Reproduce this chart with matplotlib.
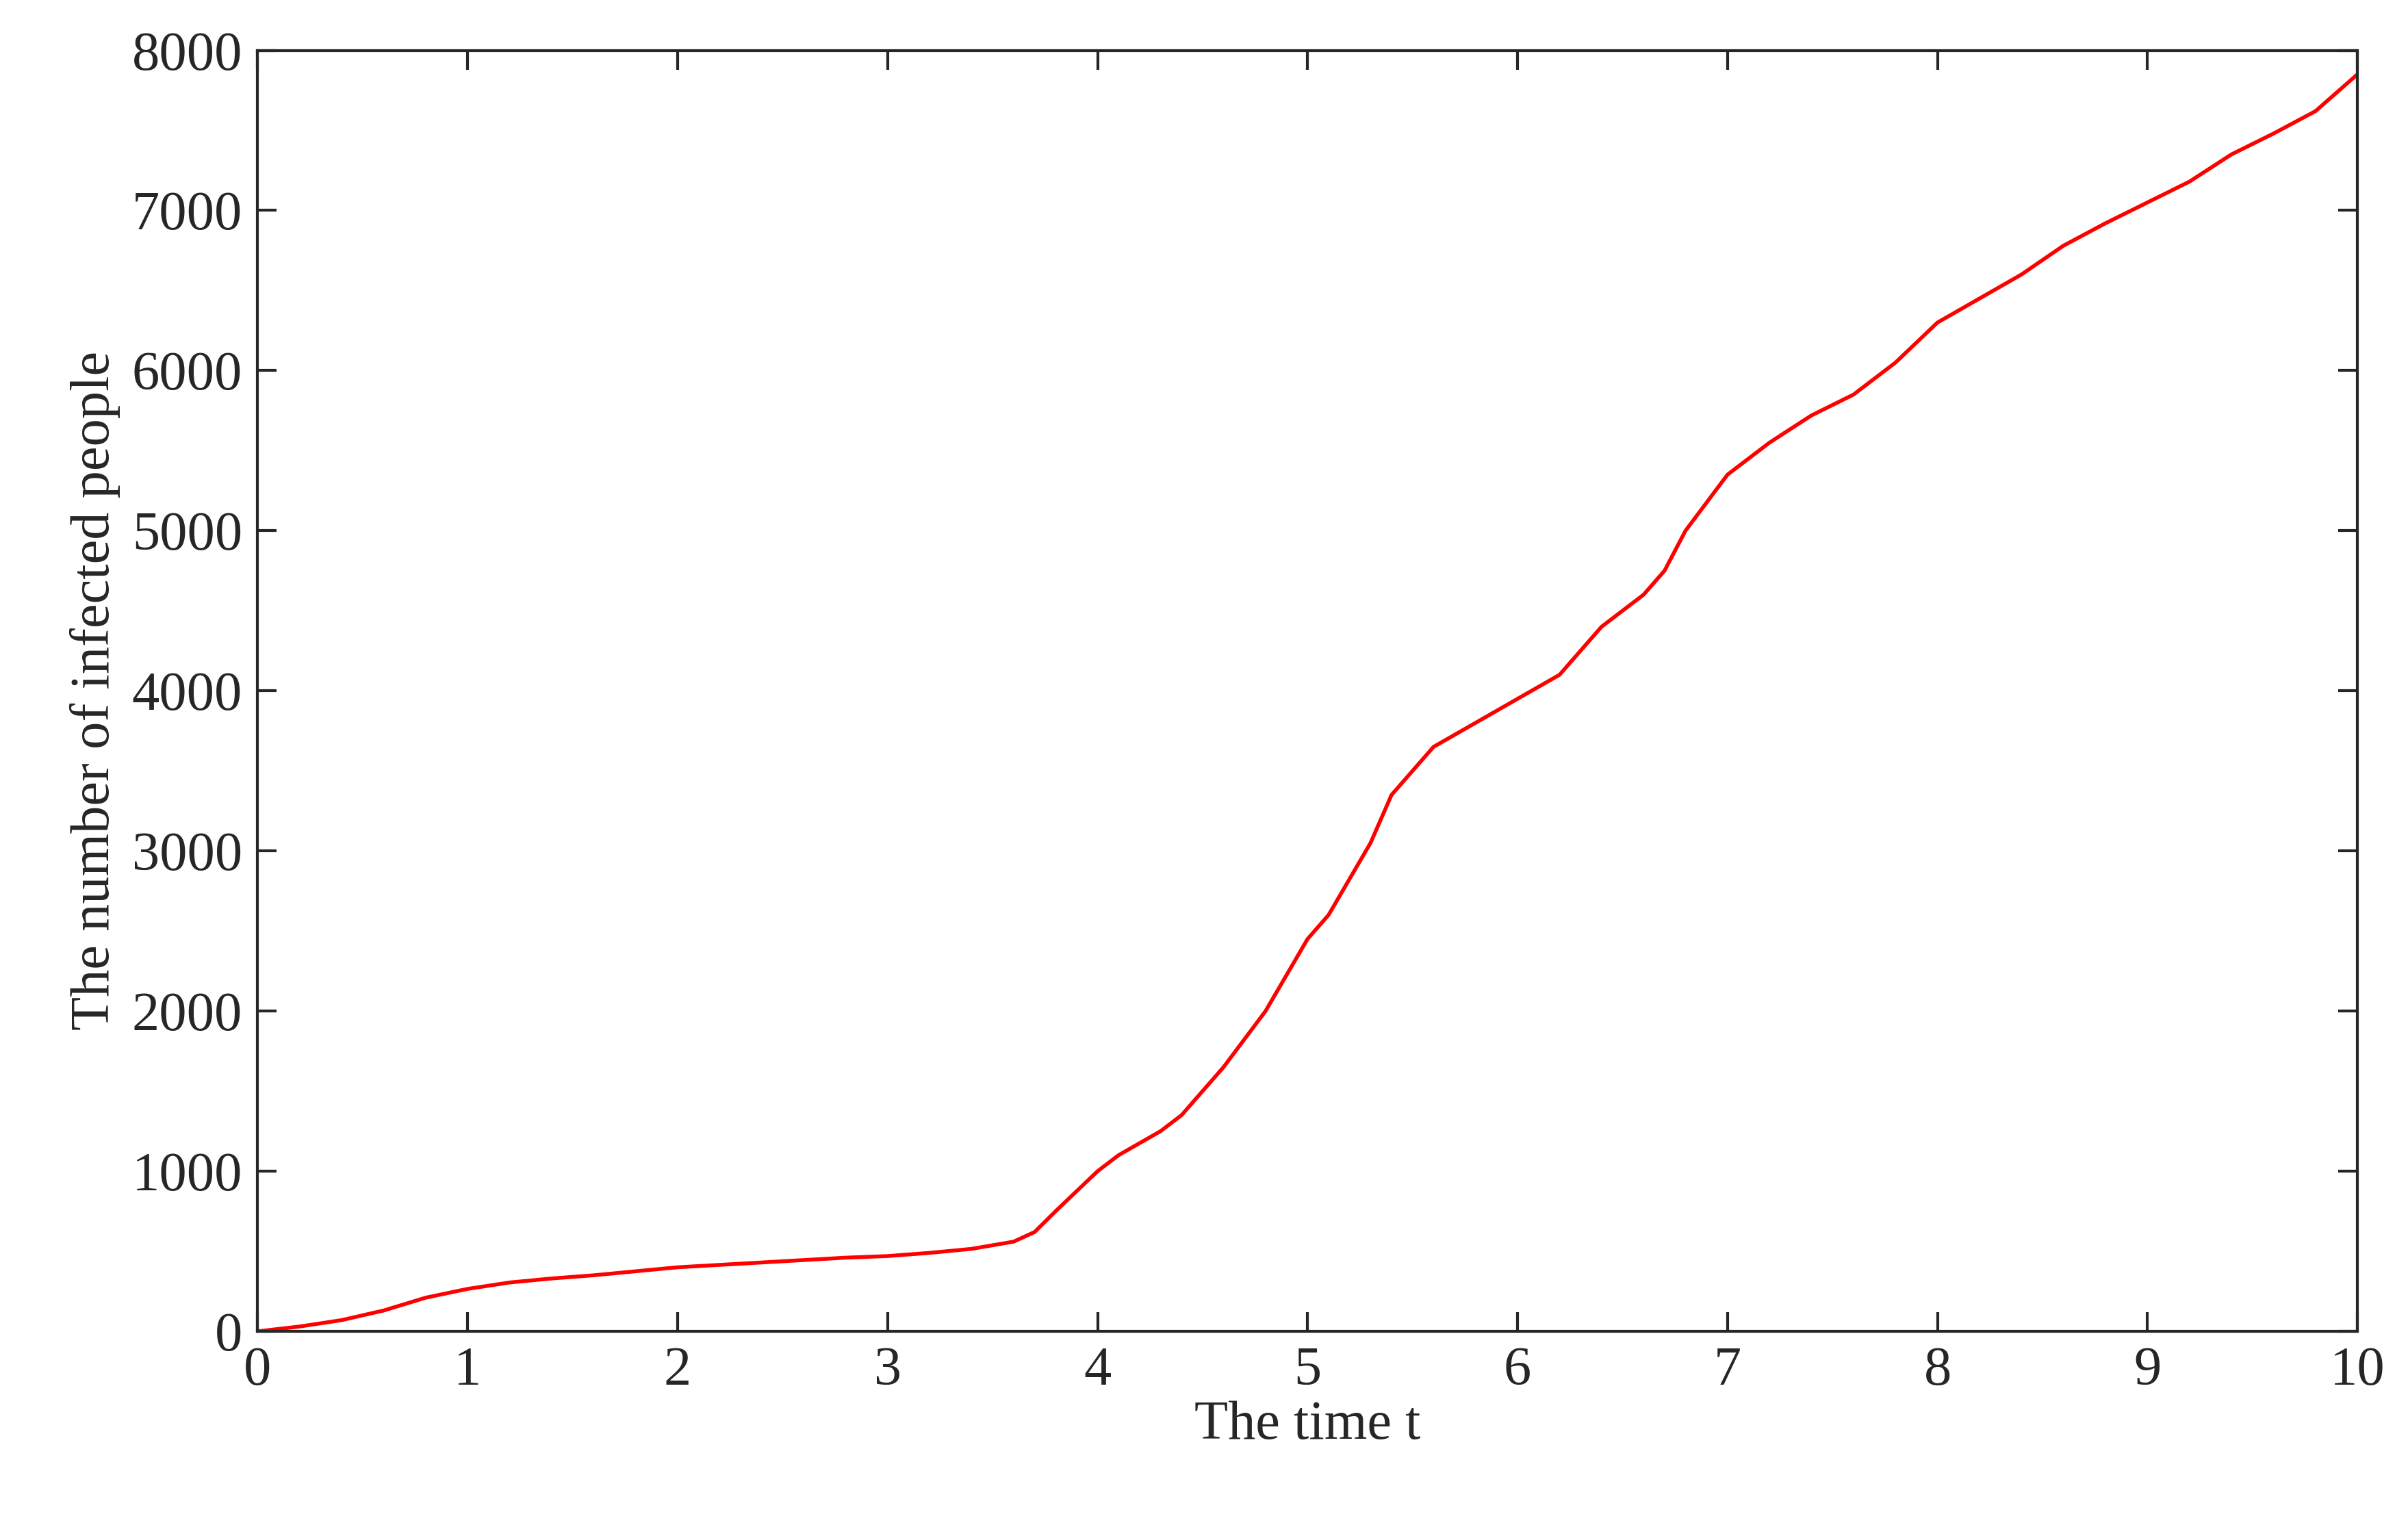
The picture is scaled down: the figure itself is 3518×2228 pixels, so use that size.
import matplotlib
matplotlib.use("Agg")
import matplotlib.pyplot as plt

t = [0, 0.2, 0.4, 0.6, 0.8, 1.0, 1.2, 1.4, 1.6, 1.8, 2.0, 2.2, 2.4, 2.6, 2.8, 3.0, 3.2, 3.4, 3.6, 3.7, 3.8,
     4.0, 4.1, 4.3, 4.4, 4.6, 4.8, 5.0, 5.1, 5.3, 5.4, 5.6, 5.8, 6.0, 6.2, 6.4, 6.6, 6.7, 6.8, 7.0, 7.2,
     7.4, 7.6, 7.8, 8.0, 8.2, 8.4, 8.6, 8.8, 9.0, 9.2, 9.4, 9.6, 9.8, 10.0]
infected = [0, 30, 70, 130, 210, 265, 305, 330, 350, 375, 400, 415, 430, 445, 460, 470, 490, 515, 560, 620, 750,
            1000, 1100, 1250, 1350, 1650, 2000, 2450, 2600, 3050, 3350, 3650, 3800, 3950, 4100, 4400, 4600, 4750,
            5000, 5350, 5550, 5720, 5850, 6050, 6300, 6450, 6600, 6780, 6920, 7050, 7180, 7350, 7480, 7620, 7850]
xticks = list(range(0, 11))
yticks = list(range(0, 8001, 1000))

plt.rcParams['font.family'] = ['Liberation Serif', 'DejaVu Serif']
fig = plt.figure(figsize=(17.59, 11.14), dpi=200)
ax = fig.add_axes([0.107, 0.127, 0.872, 0.840])
ax.plot(t, infected, color='#ff0000', lw=2)
ax.set_xlim(0, 10)
ax.set_ylim(0, 8000)
ax.set_xticks(xticks)
ax.set_yticks(yticks)
ax.tick_params(direction='in', top=True, right=True, labelsize=29, length=10, width=1.5, colors='#262626', pad=8)
for s in ax.spines.values():
    s.set_linewidth(1.5)
    s.set_color('#262626')
ax.set_xlabel('The time t', fontsize=29, color='#262626', labelpad=2)
ax.set_ylabel('The number of infected people', fontsize=29, color='#262626', labelpad=6)
fig.savefig('out.png', dpi=200)
